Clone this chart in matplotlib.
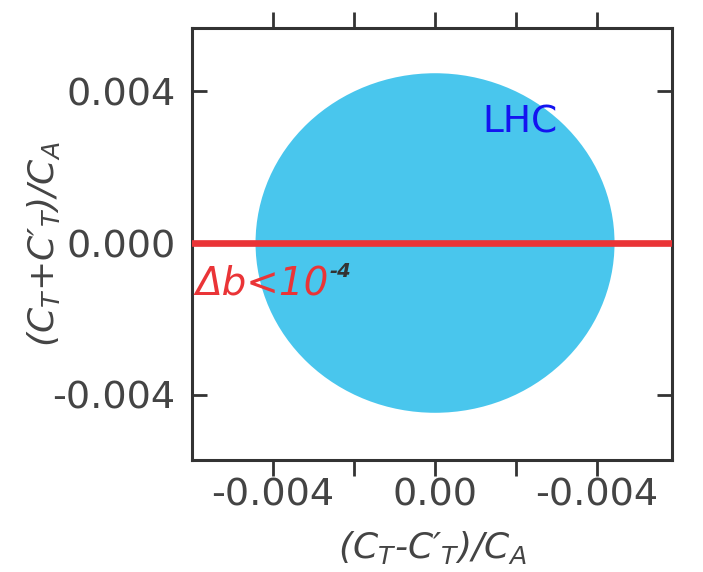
import numpy as np
import matplotlib
matplotlib.use("Agg")
import matplotlib.pyplot as plt
from matplotlib.patches import Ellipse

# LHC allowed region (centre, semi-axes) and the Delta b bound line
lhc_center = (0.0, 0.0)
lhc_radius_x = 0.00443
lhc_radius_y = 0.00447
bound_y = 0.0

xticks_major = [-0.004, 0.0, 0.004]
xtick_labels = ["-0.004", "0.00", "-0.004"]
xticks_minor = [-0.002, 0.002]
yticks_major = [-0.004, 0.0, 0.004]
ytick_labels = ["-0.004", "0.000", "0.004"]

plt.rcParams["mathtext.default"] = "it"
fig = plt.figure(figsize=(7.03, 5.72), dpi=100)
ax = fig.add_axes([0.273, 0.196, 0.683, 0.755])
ax.set_xlim(-0.006, 0.00585)
ax.set_ylim(-0.00571, 0.00566)

ax.add_patch(Ellipse(lhc_center, 2 * lhc_radius_x, 2 * lhc_radius_y,
                     fc="#49c6ed", ec="none", zorder=1))
ax.axhline(bound_y, color="#ea3437", lw=4.8, zorder=3)

ax.text(0.0021, 0.00318, "LHC", color="#1414f0", fontsize=27,
        ha="center", va="center", zorder=4)
t = ax.text(-0.00592, -0.00135, "\u0394b<10", color="#ea3437", fontsize=28,
            style="italic", ha="left", va="baseline", zorder=4)
ax.annotate("-4", xy=(1.0, 1.0), xycoords=t, xytext=(1, 2),
            textcoords="offset points", color="#333333", fontsize=14,
            fontweight="bold", style="italic", ha="left", va="top", zorder=4)

# ticks: outward on top/bottom, inward on left/right
ax.set_xticks(xticks_major)
ax.set_xticklabels(xtick_labels)
ax.set_xticks(xticks_minor, minor=True)
ax.set_yticks(yticks_major)
ax.set_yticklabels(ytick_labels)
ax.tick_params(axis="x", which="both", direction="out", length=11.5, width=2,
               top=True, bottom=True, labeltop=False, labelsize=27.5,
               color="#333333", labelcolor="#444444", pad=1)
ax.tick_params(axis="y", which="both", direction="in", length=11, width=2,
               left=True, right=True, labelsize=27.5,
               color="#333333", labelcolor="#444444", pad=12)
for s in ax.spines.values():
    s.set_linewidth(2.2)
    s.set_color("#333333")

ax.set_xlabel("(C$_T$-C\u2032$_T$)/C$_A$", fontsize=26, style="italic",
              color="#444444")
ax.set_ylabel("(C$_T$+C\u2032$_T$)/C$_A$", fontsize=26, style="italic",
              color="#444444")
ax.xaxis.set_label_coords(0.5, -0.16)
ax.yaxis.set_label_coords(-0.27, 0.5)

fig.savefig("out.png", dpi=100)
